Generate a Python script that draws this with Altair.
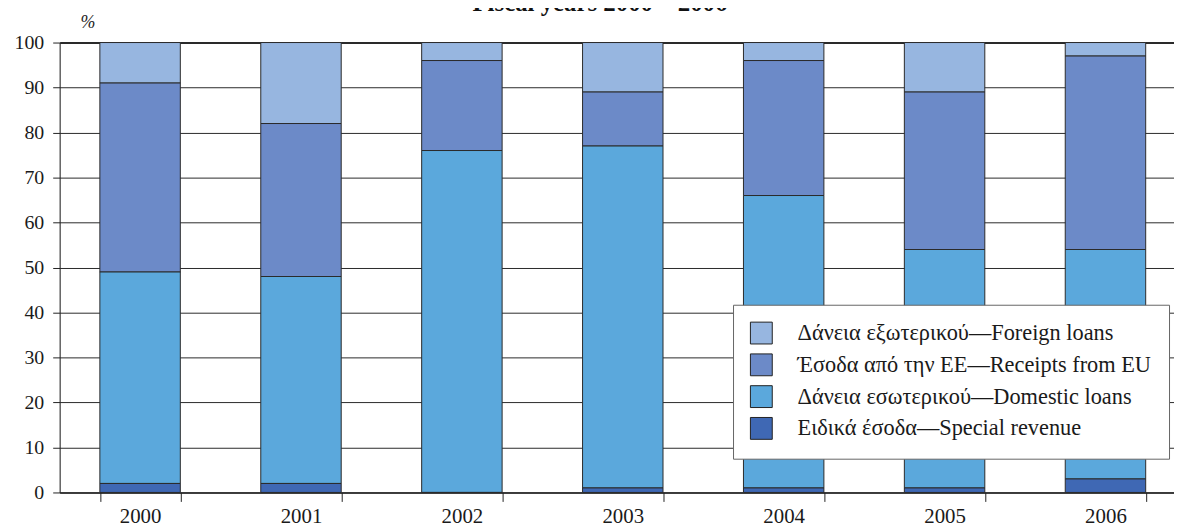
import altair as alt
import pandas as pd

years = ["2000", "2001", "2002", "2003", "2004", "2005", "2006"]
special = [2, 2, 0, 1, 1, 1, 3]
domestic = [47, 46, 76, 76, 65, 53, 51]
eu = [42, 34, 20, 12, 30, 35, 43]
foreign = [9, 18, 4, 11, 4, 11, 3]

series_names = [
    "Δάνεια εξωτερικού—Foreign loans",
    "Έσοδα από την ΕΕ—Receipts from EU",
    "Δάνεια εσωτερικού—Domestic loans",
    "Ειδικά έσοδα—Special revenue",
]
series_values = [foreign, eu, domestic, special]
series_colors = ["#97B6E0", "#6C8AC8", "#5BA8DC", "#3F68B4"]
stack_order = [3, 2, 1, 0]
chart_title = ["Fiscal years 2000 – 2006"]

rows = []
for name, vals, o in zip(series_names, series_values, stack_order):
    for y, v in zip(years, vals):
        rows.append({"year": y, "series": name, "value": v, "ord": o})
df = pd.DataFrame(rows)

FONT = "'Liberation Serif', 'Times New Roman', 'DejaVu Serif', serif"

bars = (
    alt.Chart(df)
    .mark_bar(stroke="#2a2a2a", strokeWidth=1)
    .encode(
        x=alt.X(
            "year:N",
            sort=years,
            scale=alt.Scale(range=[0, 1134], paddingInner=0.5, paddingOuter=0.25),
            axis=alt.Axis(
                title=None,
                labelAngle=0,
                tickBand="extent",
                labelFont=FONT,
                labelFontSize=21,
                labelColor="#1a1a1a",
                labelPadding=4,
                tickSize=9,
                tickColor="#222",
                domainColor="#222",
                domainWidth=1.5,
                grid=False,
            ),
        ),
        y=alt.Y(
            "value:Q",
            stack="zero",
            scale=alt.Scale(domain=[0, 100], nice=False),
            axis=alt.Axis(
                title="%",
                titleAngle=0,
                titleX=28,
                titleY=-15,
                titleAlign="center",
                titleBaseline="alphabetic",
                titleFont=FONT,
                titleFontSize=18,
                titleFontStyle="italic",
                titleFontWeight="normal",
                titleColor="#222",
                values=list(range(0, 101, 10)),
                labelFont=FONT,
                labelFontSize=20,
                labelColor="#1a1a1a",
                labelPadding=9,
                tickSize=7,
                tickColor="#222",
                domainColor="#222",
                grid=True,
                gridColor="#2a2a2a",
                gridWidth={"condition": {"test": "datum.value === 100", "value": 2}, "value": 1},
            ),
        ),
        color=alt.Color(
            "series:N",
            scale=alt.Scale(domain=series_names, range=series_colors),
            legend=alt.Legend(
                orient="none",
                legendX=678,
                legendY=264,
                title=None,
                symbolType="square",
                symbolSize=484,
                symbolStrokeColor="#222",
                symbolStrokeWidth=1,
                symbolOpacity=1,
                labelFont=FONT,
                labelFontSize=22.5,
                labelColor="#1a1a1a",
                labelOffset=25,
                labelLimit=600,
                rowPadding=5,
                padding=17,
                fillColor="white",
                strokeColor="#666",
                cornerRadius=0,
            ),
        ),
        order=alt.Order("ord:Q"),
    )
)

title_text = (
    alt.Chart(pd.DataFrame({"t": chart_title}))
    .mark_text(
        font=FONT,
        fontSize=25,
        fontWeight="bold",
        color="#111",
        align="center",
        baseline="alphabetic",
    )
    .encode(text="t:N", x=alt.value(544), y=alt.value(-32))
)

chart = (
    alt.layer(bars, title_text)
    .properties(
        width=1122,
        height=453,
        autosize=alt.AutoSizeParams(type="none"),
        padding={"left": 52, "top": 33, "right": 0, "bottom": 34},
    )
    .configure_view(stroke=None)
    .configure(background="white")
)

chart.save("out.html", embed_options={"renderer": "svg", "actions": False})
